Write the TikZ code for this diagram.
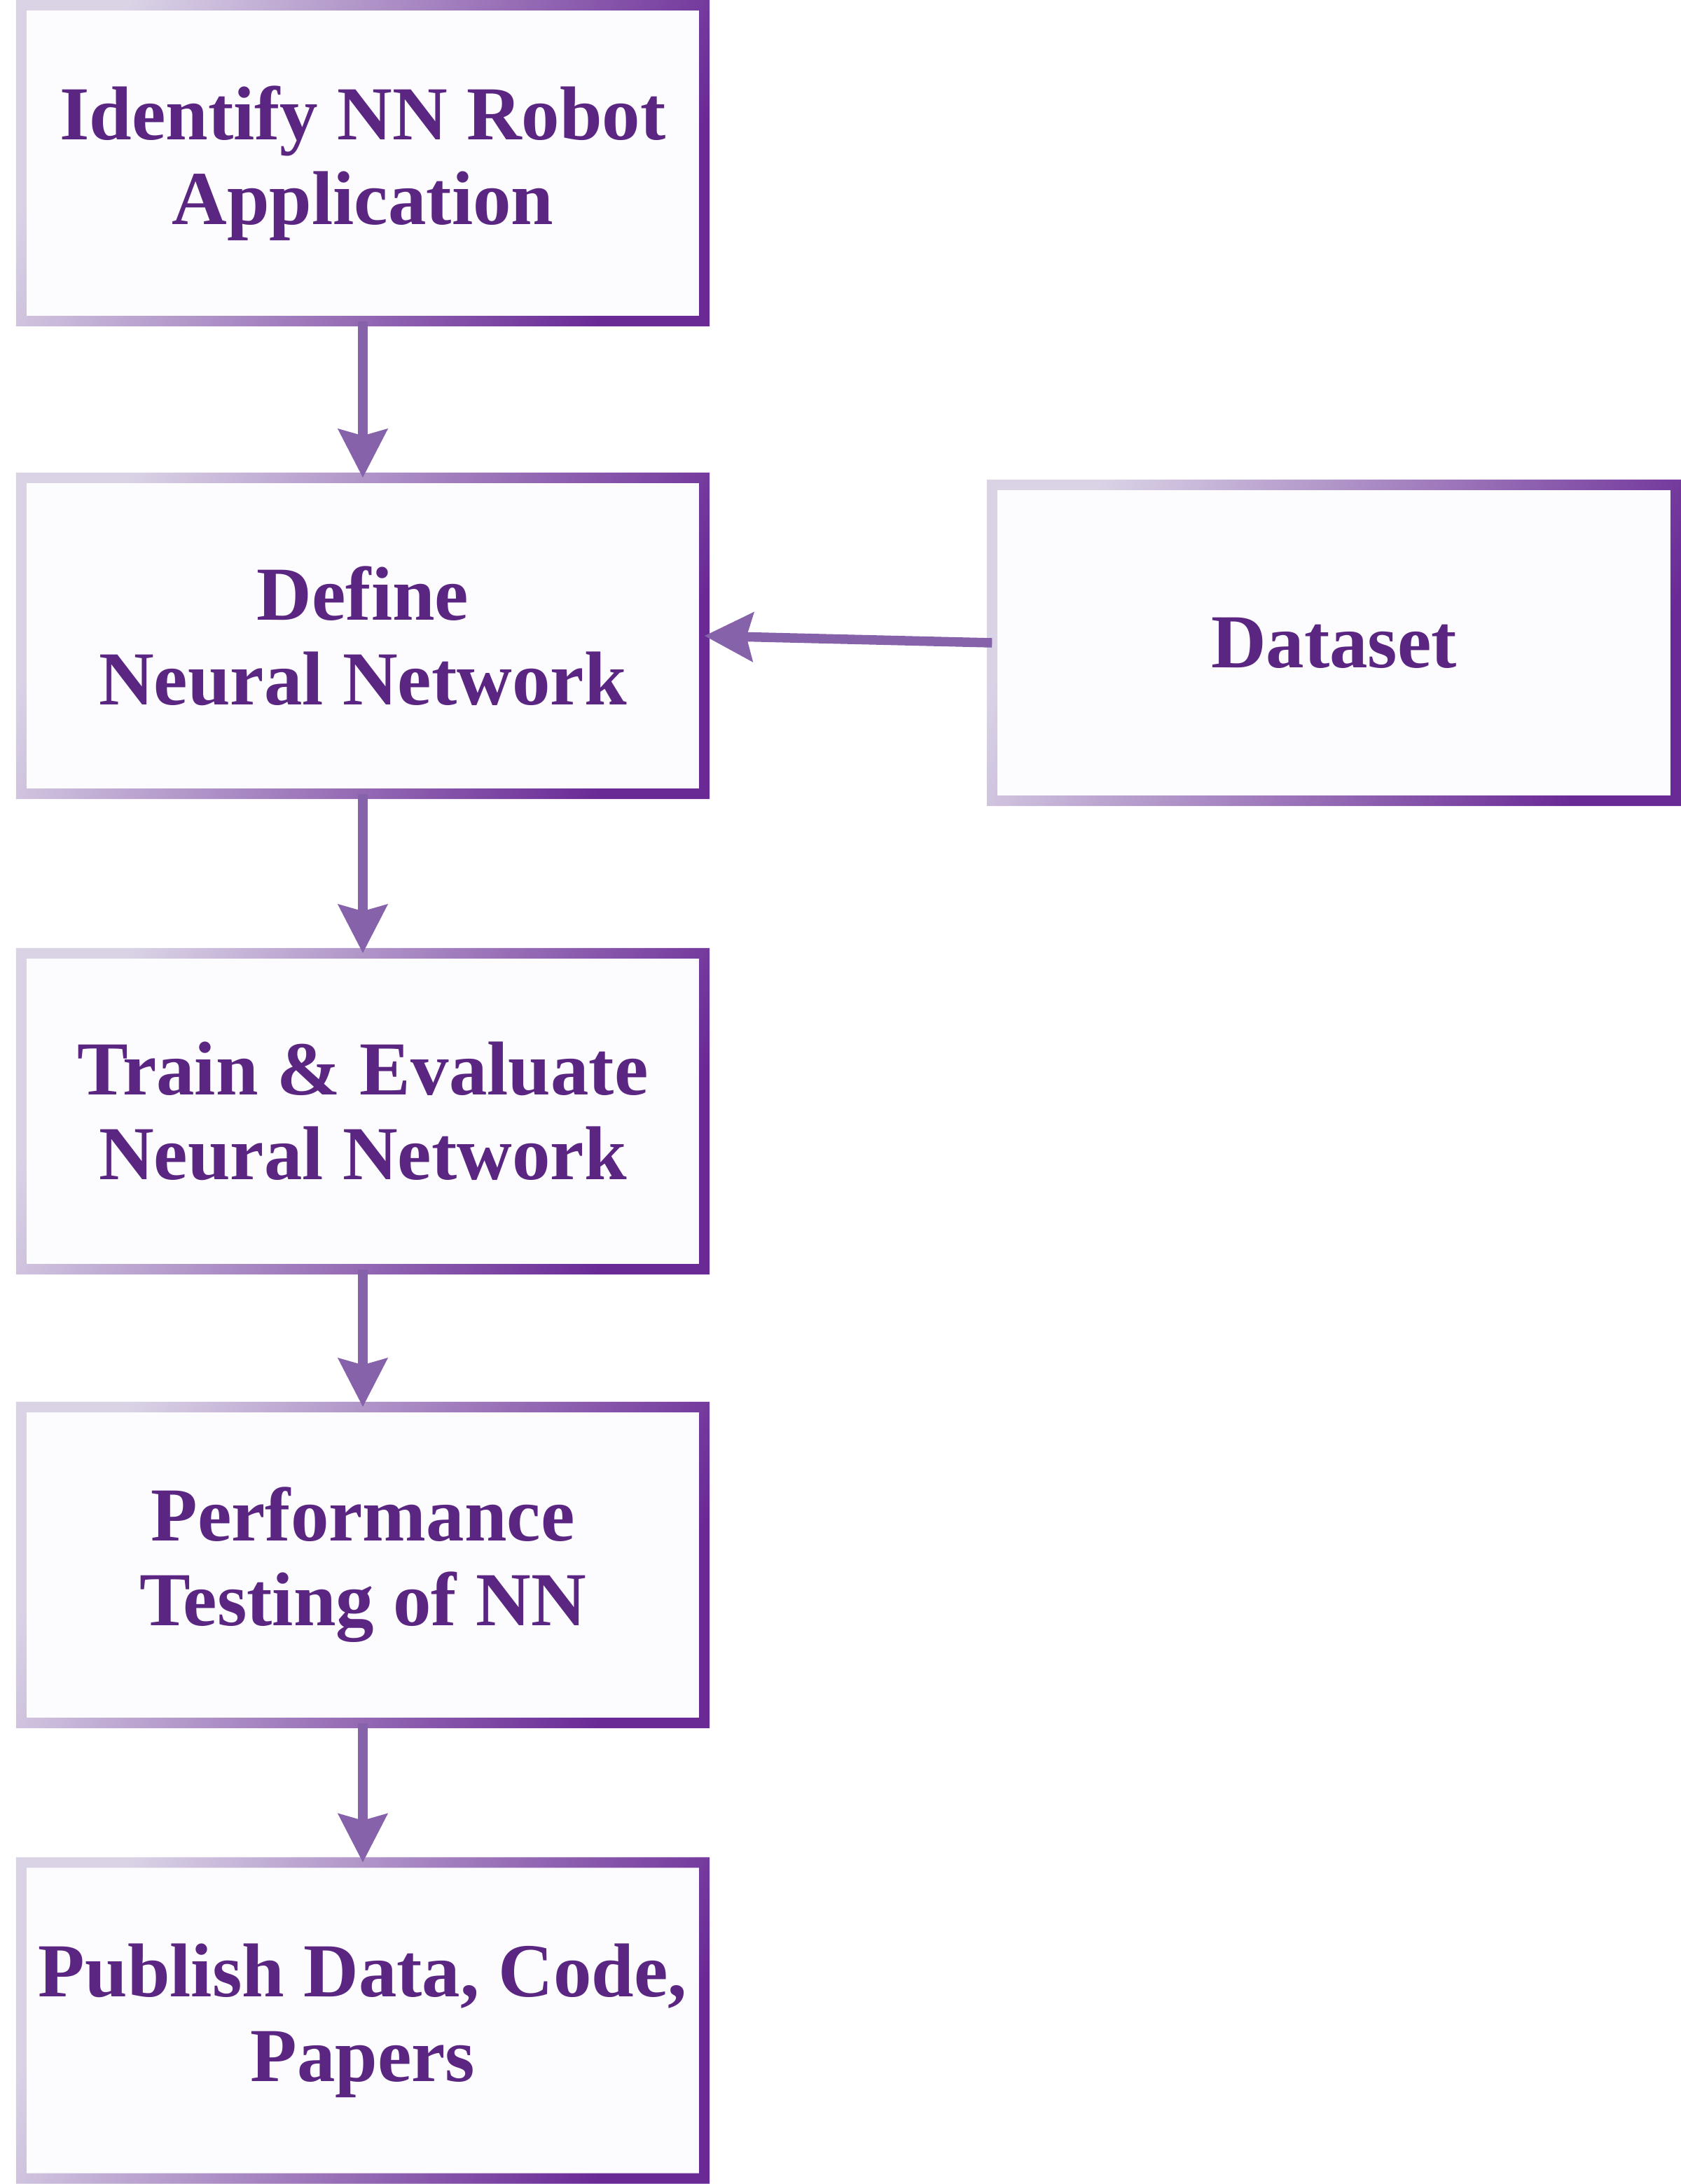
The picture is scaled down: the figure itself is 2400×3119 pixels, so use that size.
\documentclass[tikz,border=0pt]{standalone}
\usepackage{fontspec}
\setmainfont{Liberation Serif}
\usetikzlibrary{arrows.meta}
\definecolor{txtc}{HTML}{5B2682}
\definecolor{arrc}{HTML}{8662AB}
\definecolor{fillc}{HTML}{FCFBFE}
\definecolor{ltc}{HTML}{DAD3E6}
\definecolor{dkc}{HTML}{6A2A96}
\tikzset{
  box/.style={fill=fillc, inner sep=0pt, minimum width=97.4mm, minimum height=45mm,
    align=center, text=txtc, font=\fontsize{31}{34.4}\selectfont\bfseries},
  flowarrow/.style={draw=arrc, line width=1.35mm,
    -{Stealth[length=6.9mm, width=6.9mm, inset=0.9mm]}},
}
\newcommand\gradframe[1]{%
  \shade[even odd rule, left color=ltc, right color=dkc, shading angle=62]
    ([shift={(-7.5,-7.5)}]#1.north west) rectangle ([shift={(7.5,7.5)}]#1.south east)
    ([shift={(7.5,7.5)}]#1.north west) rectangle ([shift={(-7.5,-7.5)}]#1.south east);}
\begin{document}
\begin{tikzpicture}[x=0.1mm, y=-0.1mm]
\useasboundingbox (0,0) rectangle (2400,3119);
\node[box] (b1) at (518,233) {Identify NN Robot\\Application};
\node[box] (b2) at (518,908) {Define\\Neural Network};
\node[box] (b3) at (518,1587) {Train \& Evaluate\\Neural Network};
\node[box] (b4) at (518,2235) {Performance\\Testing of NN};
\node[box] (b5) at (518,2885.5) {Publish Data, Code,\\Papers};
\node[box, minimum width=97.5mm] (ds) at (1904.5,918) {Dataset};
\gradframe{b1}
\gradframe{b2}
\gradframe{b3}
\gradframe{b4}
\gradframe{b5}
\gradframe{ds}
\draw[flowarrow] (b1.south) -- (b2.north);
\draw[flowarrow] (b2.south) -- (b3.north);
\draw[flowarrow] (b3.south) -- (b4.north);
\draw[flowarrow] (b4.south) -- (b5.north);
\draw[flowarrow] (ds.west) -- (b2.east);
\end{tikzpicture}
\end{document}
